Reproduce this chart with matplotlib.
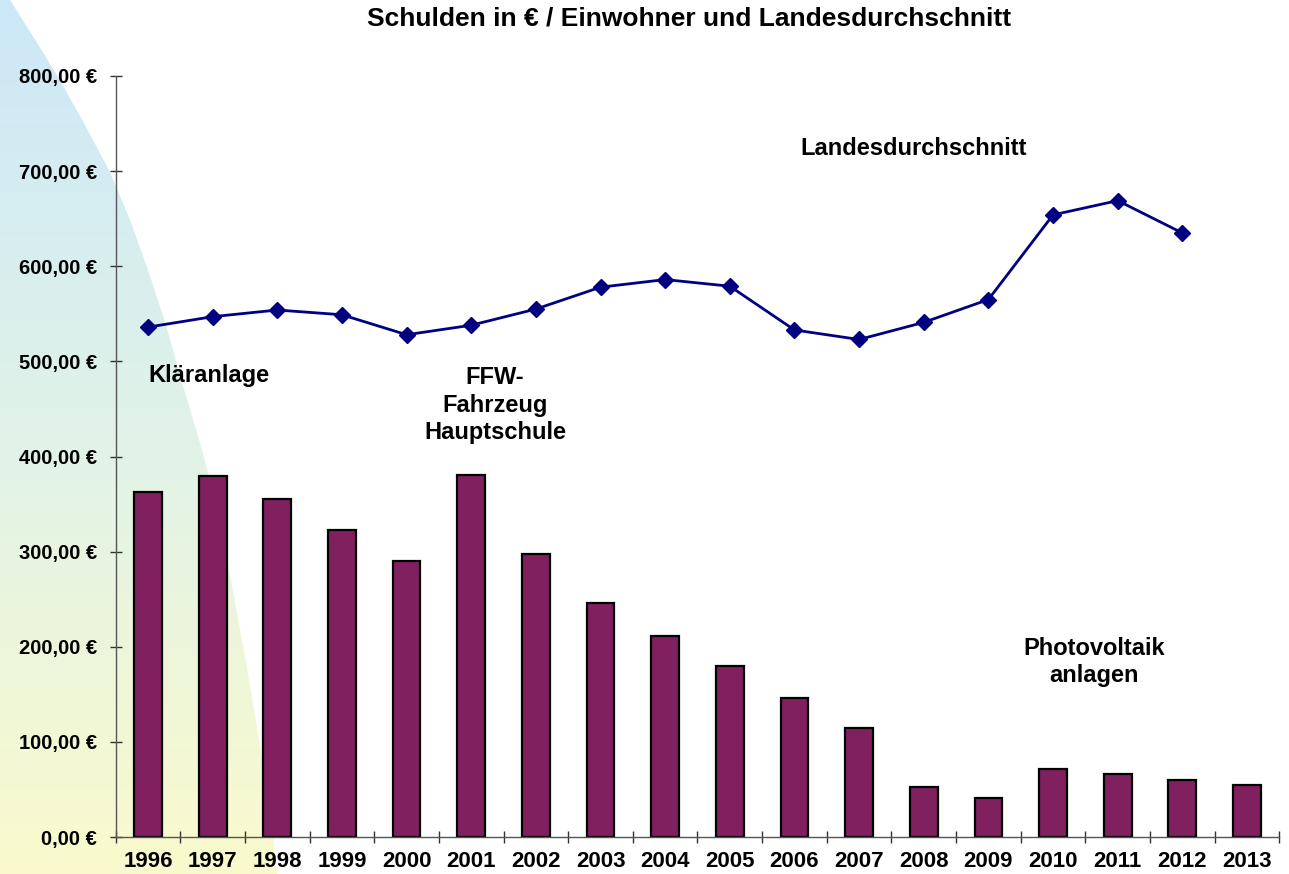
import matplotlib
matplotlib.use("Agg")
import matplotlib.pyplot as plt
import numpy as np
from matplotlib.patches import Polygon

years = ["1996", "1997", "1998", "1999", "2000", "2001", "2002", "2003", "2004",
         "2005", "2006", "2007", "2008", "2009", "2010", "2011", "2012", "2013"]
schulden = [363, 380, 355, 323, 290, 381, 297, 246, 211,
            180, 146, 115, 53, 41, 72, 66, 60, 55]
landes = [536, 547, 554, 549, 528, 538, 555, 578, 586,
          579, 533, 523, 541, 565, 654, 669, 635]
yticks = [0, 100, 200, 300, 400, 500, 600, 700, 800]
ytick_labels = ["0,00 €", "100,00 €", "200,00 €", "300,00 €", "400,00 €",
                "500,00 €", "600,00 €", "700,00 €", "800,00 €"]
title = "Schulden in € / Einwohner und Landesdurchschnitt"

W, H = 1289, 874
fig = plt.figure(figsize=(W / 100, H / 100), dpi=100)
fig.patch.set_facecolor("white")

# decorative gradient swoosh on the left
bg = fig.add_axes([0, 0, 1, 1], zorder=0)
bg.set_xlim(0, W)
bg.set_ylim(H, 0)
bg.axis("off")
shape = [(0, 0), (10, 0), (34, 38), (58, 77), (85, 125), (110, 172), (130, 220),
         (148, 270), (166, 325), (182, 382), (198, 436), (213, 490), (231, 580),
         (247, 668), (261, 752), (273, 836), (277, 874), (0, 874)]
poly = Polygon(shape, closed=True, facecolor="none", edgecolor="none")
bg.add_patch(poly)
stops = np.array([[0.80, 0.91, 0.97], [0.88, 0.95, 0.91], [0.98, 0.98, 0.80]])
t = np.linspace(0, 1, 256)
grad = np.stack([np.interp(t, [0, 0.5, 1], stops[:, c]) for c in range(3)], axis=-1)
grad = grad[:, None, :]
im = bg.imshow(grad, extent=(0, 300, H, 0), aspect="auto", interpolation="bilinear")
im.set_clip_path(poly)

# main axes
left = 115.7 / W
right = 1279.3 / W
bottom = (H - 837) / H
top = (H - 76) / H
ax = fig.add_axes([left, bottom, right - left, top - bottom], zorder=1)
ax.patch.set_alpha(0)

x = np.arange(len(years))
ax.bar(x, schulden, width=0.43, color="#80205F", edgecolor="black", linewidth=1.6, zorder=2)
ax.plot(np.arange(len(landes)), landes, color="#000080", linewidth=2.0,
        marker="D", markersize=8, zorder=3)

ax.set_xlim(-0.5, len(years) - 0.5)
ax.set_ylim(0, 800)

for s in ["top", "right"]:
    ax.spines[s].set_visible(False)
for s in ["left", "bottom"]:
    ax.spines[s].set_color("#555555")
    ax.spines[s].set_linewidth(1.0)

ax.set_yticks(yticks)
ax.set_yticklabels(ytick_labels, fontfamily="Liberation Sans", fontweight="bold", fontsize=14.5)
ax.tick_params(axis="y", direction="inout", length=9, width=1, color="#333333", pad=9)

ax.set_xticks(np.arange(len(years) + 1) - 0.5)
ax.set_xticklabels([])
ax.set_xticks(x, minor=True)
ax.set_xticklabels(years, minor=True, fontfamily="Liberation Sans", fontweight="bold", fontsize=16)
ax.tick_params(axis="x", which="major", direction="inout", length=9, width=1, color="#333333")
ax.tick_params(axis="x", which="minor", length=0, pad=10)

fig.text(689 / W, 1 - 19 / H, title, fontfamily="Liberation Sans", fontweight="bold",
         fontsize=19, ha="center", va="center")

afont = dict(fontfamily="Liberation Sans", fontweight="bold", fontsize=17, ha="center", va="center",
             linespacing=1.25)
ax.text(0.94, 485, "Kläranlage", **afont)
ax.text(5.37, 454, "FFW-\nFahrzeug\nHauptschule", **afont)
ax.text(11.85, 724, "Landesdurchschnitt", **afont)
ax.text(14.63, 184, "Photovoltaik\nanlagen", **afont)

fig.savefig("out.png", dpi=100)
